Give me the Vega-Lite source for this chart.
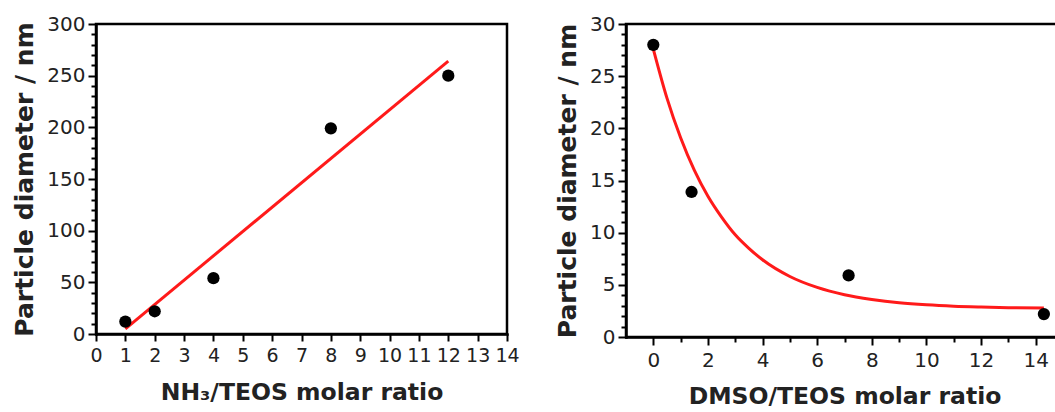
{
  "$schema": "https://vega.github.io/schema/vega-lite/v6.json",
  "background": "white",
  "padding": {"left": 11, "top": 12, "right": 0, "bottom": 0},
  "bounds": "flush",
  "spacing": 119,
  "config": {
    "view": {"stroke": "black", "strokeWidth": 2.5},
    "axis": {
      "domainColor": "black", "domainWidth": 2.5, "domainCap": "square",
      "tickColor": "black", "tickWidth": 2, "tickSize": 8,
      "labelFont": "DejaVu Sans", "labelFontSize": 20, "labelColor": "#222",
      "titleFont": "DejaVu Sans", "titleFontWeight": "bold", "titleFontSize": 23.5, "titleColor": "#222",
      "grid": false, "labelOverlap": false, "labelFlush": false
    },
    "axisLeft": {"titleFontSize": 25}
  },
  "datasets": {
    "nh3": [
      {"ratio": 1, "diameter": 12},
      {"ratio": 2, "diameter": 22},
      {"ratio": 4, "diameter": 54},
      {"ratio": 8, "diameter": 199},
      {"ratio": 12, "diameter": 250}
    ],
    "nh3fit": [
      {"ratio": 1, "diameter": 5},
      {"ratio": 12, "diameter": 264}
    ],
    "dmso": [
      {"ratio": 0, "diameter": 28},
      {"ratio": 1.4, "diameter": 13.9},
      {"ratio": 7.15, "diameter": 5.9},
      {"ratio": 14.3, "diameter": 2.2}
    ],
    "dmsofit": [
      {"ratio": 0, "diameter": 27.6},
      {"ratio": 0.5, "diameter": 22.9},
      {"ratio": 1, "diameter": 19.1},
      {"ratio": 1.5, "diameter": 16.0},
      {"ratio": 2, "diameter": 13.5},
      {"ratio": 2.5, "diameter": 11.5},
      {"ratio": 3, "diameter": 9.8},
      {"ratio": 3.5, "diameter": 8.5},
      {"ratio": 4, "diameter": 7.4},
      {"ratio": 5, "diameter": 5.8},
      {"ratio": 6, "diameter": 4.75},
      {"ratio": 7, "diameter": 4.05},
      {"ratio": 8, "diameter": 3.6},
      {"ratio": 9, "diameter": 3.28},
      {"ratio": 10, "diameter": 3.08},
      {"ratio": 11, "diameter": 2.95},
      {"ratio": 12, "diameter": 2.87},
      {"ratio": 13, "diameter": 2.81},
      {"ratio": 14.3, "diameter": 2.77}
    ]
  },
  "hconcat": [
    {
      "width": 411, "height": 310,
      "resolve": {"axis": {"x": "independent", "y": "independent"}},
      "layer": [
        {
          "data": {"name": "nh3fit"},
          "mark": {"type": "line", "color": "#ff1a1a", "strokeWidth": 3},
          "encoding": {
            "x": {"field": "ratio", "type": "quantitative",
              "scale": {"domain": [0, 14], "nice": false},
              "axis": {"orient": "bottom", "values": [0,1,2,3,4,5,6,7,8,9,10,11,12,13,14], "title": "NH₃/TEOS molar ratio", "labelPadding": 5, "titlePadding": 15, "tickSize": 7, "labelFontSize": 19}},
            "y": {"field": "diameter", "type": "quantitative",
              "scale": {"domain": [0, 300], "nice": false},
              "axis": {"orient": "left", "values": [0,50,100,150,200,250,300], "title": "Particle diameter / nm", "labelPadding": 3, "titlePadding": 9}}
          }
        },
        {
          "data": {"name": "nh3"},
          "mark": {"type": "point", "filled": true, "color": "black", "opacity": 1, "size": 150},
          "encoding": {
            "x": {"field": "ratio", "type": "quantitative", "axis": null},
            "y": {"field": "diameter", "type": "quantitative",
              "axis": {"orient": "left", "values": [10,20,30,40,60,70,80,90,110,120,130,140,160,170,180,190,210,220,230,240,260,270,280,290], "labels": false, "title": null, "domain": false, "tickSize": 5}}
          }
        }
      ]
    },
    {
      "width": 437, "height": 313,
      "resolve": {"axis": {"x": "independent", "y": "independent"}},
      "layer": [
        {
          "data": {"name": "dmsofit"},
          "mark": {"type": "line", "color": "#ff1a1a", "strokeWidth": 3, "interpolate": "monotone"},
          "encoding": {
            "x": {"field": "ratio", "type": "quantitative",
              "scale": {"domain": [-1, 15], "nice": false},
              "axis": {"orient": "bottom", "values": [0,2,4,6,8,10,12,14], "title": "DMSO/TEOS molar ratio", "labelPadding": 5, "titlePadding": 14, "tickSize": 8}},
            "y": {"field": "diameter", "type": "quantitative",
              "scale": {"domain": [0, 30], "nice": false},
              "axis": {"orient": "left", "values": [0,5,10,15,20,25,30], "title": "Particle diameter / nm", "labelPadding": 3, "titlePadding": 9}}
          }
        },
        {
          "data": {"name": "dmso"},
          "mark": {"type": "point", "filled": true, "color": "black", "opacity": 1, "size": 150, "clip": false},
          "encoding": {
            "x": {"field": "ratio", "type": "quantitative",
              "axis": {"orient": "bottom", "values": [1,3,5,7,9,11,13], "labels": false, "title": null, "domain": false, "tickSize": 5}},
            "y": {"field": "diameter", "type": "quantitative",
              "axis": {"orient": "left", "values": [1,2,3,4,6,7,8,9,11,12,13,14,16,17,18,19,21,22,23,24,26,27,28,29], "labels": false, "title": null, "domain": false, "tickSize": 5}}
          }
        }
      ]
    }
  ]
}
